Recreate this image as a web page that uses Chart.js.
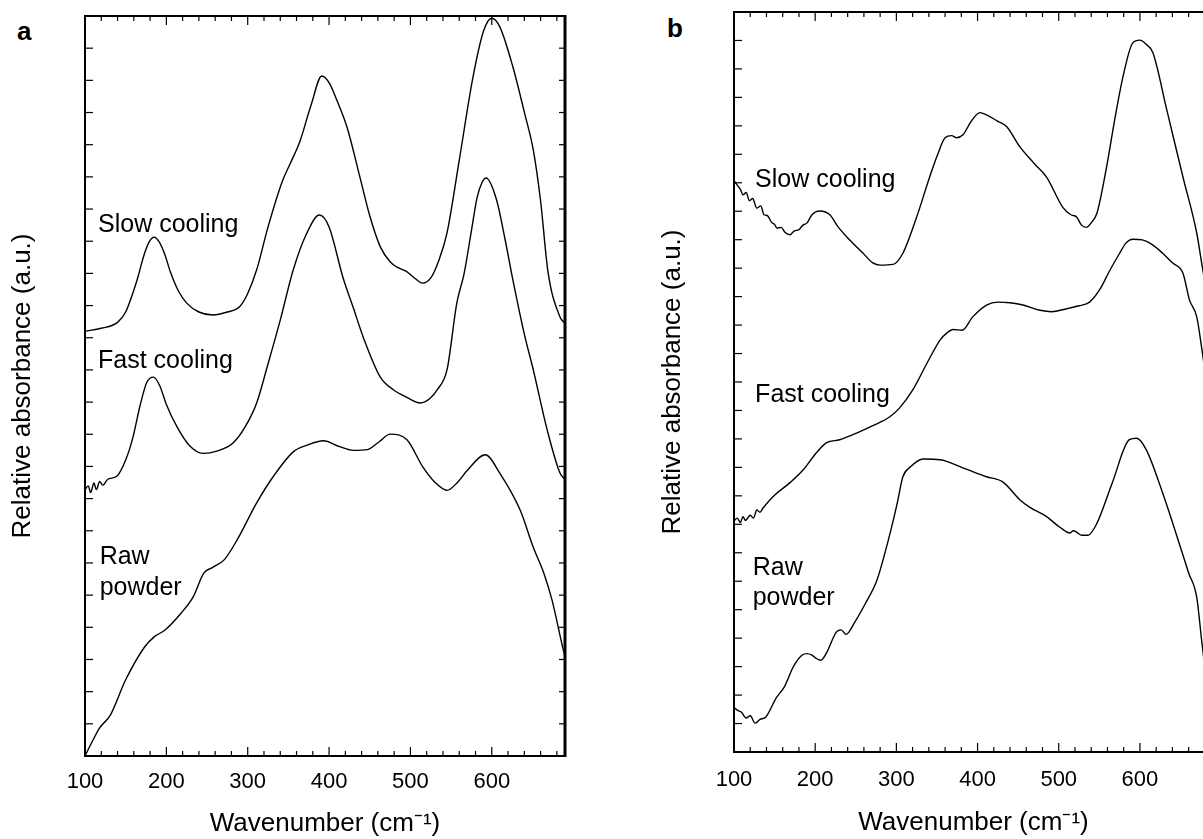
<!doctype html>
<html lang="en">
<head>
<meta charset="utf-8">
<title>Relative absorbance spectra</title>
<script src="https://cdn.jsdelivr.net/npm/chart.js"></script>
<style>
  html, body { margin: 0; padding: 0; background: #fff; }
  body { width: 1203px; height: 839px; overflow: hidden; position: relative; }
  canvas { position: absolute; top: 0; }
  #chartA { left: 0; }
  #chartB { left: 640px; }
  .panel { position: absolute; font: bold 26px "Liberation Sans", Arial, sans-serif; line-height: 1; }
</style>
</head>
<body>
<div class="panel" style="left:17px; top:18px;">a</div>
<div class="panel" style="left:667px; top:15px;">b</div>
<canvas id="chartA" width="600" height="839"></canvas>
<canvas id="chartB" width="600" height="839"></canvas>

<script>
// x ticks (cm-1)
const tickLabels = [100, 200, 300, 400, 500, 600];

// panel a
const slowA_wn = [100,120,140,150,158,165,172,179,185,191,198,205,215,225,240,257,275,290,300,311,325,343,352,364,378,391,400,410,422,438,450,463,475,483,495,505,515,525,535,545,560,577,590,600,610,626,640,651,660,669,684,690];
const slowA_abs = [57.4,57.8,58.6,60.0,62.3,64.7,67.5,69.5,70.1,69.5,67.8,65.4,62.8,61.2,60.0,59.6,60.0,60.7,62.5,65.7,71.5,77.8,80.0,83.0,88.0,91.9,91.0,88.5,85.0,78.2,73.0,68.8,66.8,66.1,65.5,64.6,63.9,64.6,67.0,70.7,80.5,91.8,98.0,99.7,98.5,93.1,87.0,81.9,75.0,65.5,59.3,58.5];

const fastA_wn = [100,104,107,111,114,118,122,128,139,150,159,168,176,184,192,200,213,228,245,262,282,297,311,325,340,356,372,388,400,417,430,442,463,479,495,512,524,533,545,557,566,575,582,588,593,606,616,626,640,651,668,684,690];
const fastA_abs = [36.0,36.5,35.6,36.9,36.0,37.1,36.6,37.4,37.8,40.0,43.1,47.5,50.5,51.2,50.0,47.5,44.5,42.0,40.9,41.2,42.3,44.5,47.7,53.0,58.9,65.7,70.5,73.1,71.5,64.7,60.5,56.6,51.2,49.5,48.5,47.7,48.3,49.5,52.2,61.2,65.2,71.0,75.5,77.5,78.1,75.1,70.0,64.3,57.0,52.2,44.1,38.2,37.4];

const rawA_wn = [100,110,118,131,150,173,185,198,218,233,246,257,271,287,311,331,356,373,393,413,430,447,462,475,496,515,530,545,558,570,592,610,635,651,664,674,688,690];
const rawA_abs = [0,2.2,3.8,5.5,10.3,14.7,16.1,17.0,19.3,21.5,24.7,25.5,26.5,29.2,34.2,37.7,41.1,42.0,42.6,41.8,41.3,41.4,42.5,43.5,42.7,39.1,37.0,35.9,37.0,38.6,40.7,38.2,33.2,28.2,24.7,21.1,14.3,13.5];

// panel b
const slowB_wn = [100,104,108,111,115,119,123,128,133,137,141,146,150,153,158,163,169,174,180,185,190,196,206,218,228,239,259,271,280,296,308,325,341,350,360,368,374,382,392,403,411,424,436,452,470,485,505,515,522,528,534,540,547,559,569,579,591,600,608,616,633,653,670,676,690];
const slowB_abs = [77.2,76.6,76.0,75.3,75.6,74.5,74.8,73.5,73.8,72.6,72.5,71.6,71.3,70.8,70.9,70.2,69.9,70.4,70.6,71.2,71.5,72.6,73.1,72.6,71.0,69.6,67.4,66.1,65.8,65.9,67.4,72.3,77.7,80.5,83.0,83.3,83.0,83.4,85.2,86.4,86.1,85.3,84.5,81.8,79.5,77.7,73.6,72.6,72.3,71.2,70.9,71.5,72.8,79.1,85.5,91.2,95.8,96.2,95.6,94.5,86.8,77.7,70.1,66.1,57.0];

const fastB_wn = [100,104,108,111,114,116,120,124,128,132,136,148,169,185,202,214,230,251,271,292,304,320,338,354,362,370,381,394,411,425,440,456,477,491,510,525,538,550,563,575,583,591,603,616,628,640,653,661,670,677,690];
const fastB_abs = [31.2,31.6,31.0,31.8,31.3,31.5,32.0,31.6,32.7,32.4,33.0,34.5,36.4,38.1,40.5,41.8,42.2,43.1,44.1,45.3,46.5,48.9,52.6,55.7,56.6,57.1,57.0,58.8,60.4,60.8,60.7,60.4,59.7,59.5,59.9,60.3,60.8,62.4,65.1,67.4,68.8,69.3,69.2,68.5,67.4,66.1,64.7,61.1,58.8,53.9,44.0];

const rawB_wn = [100,105,109,115,120,126,132,139,152,162,173,184,190,196,202,207,214,226,232,238,249,262,276,290,301,308,317,333,354,382,411,431,452,464,485,501,514,518,522,528,536,547,566,587,596,608,628,651,660,670,676,690];
const rawB_abs = [6.0,5.6,5.4,4.6,4.9,3.9,4.4,4.7,7.3,8.8,11.5,13.1,13.3,13.1,12.6,12.4,13.4,16.2,16.5,15.9,17.6,20.1,23.2,28.6,33.6,37.2,38.5,39.6,39.5,38.4,37.2,36.5,34.1,33.1,31.8,30.4,29.6,29.9,29.7,29.3,29.3,30.9,36.4,42.2,42.4,40.8,35.0,27.3,24.2,20.9,15.1,2.0];

Chart.defaults.font.family = "'Liberation Sans', Arial, sans-serif";
Chart.defaults.color = '#000';

function pts(wn, abs) {
  return wn.map((w, i) => ({ x: w, y: abs[i] }));
}

function curve(wn, abs) {
  return { data: pts(wn, abs), borderColor: '#000', borderWidth: 1.4, pointRadius: 0, cubicInterpolationMode: 'monotone', fill: false };
}

// frame, inward ticks and curve names
const framePlugin = {
  id: 'frame',
  afterDraw(chart, args, opts) {
    const { ctx, chartArea: a, scales: { x, y } } = chart;
    const seg = (x1, y1, x2, y2) => { ctx.beginPath(); ctx.moveTo(x1, y1); ctx.lineTo(x2, y2); ctx.stroke(); };
    ctx.save();
    ctx.strokeStyle = '#000';
    ctx.lineWidth = 1.2;
    for (let v = 100; v <= 690; v += 20) {
      const px = x.getPixelForValue(v);
      const len = v % 100 === 0 ? 9 : 5;
      seg(px, a.bottom, px, a.bottom - len);
      seg(px, a.top, px, a.top + len);
    }
    for (let i = 1; i < opts.yDiv; i++) {
      const py = y.getPixelForValue(100 * i / opts.yDiv);
      seg(a.left, py, a.left + 8, py);
      seg(a.right, py, a.right - 6, py);
    }
    ctx.lineWidth = 2;
    ctx.strokeRect(a.left, a.top, a.right - a.left, a.bottom - a.top);
    if (opts.thickRight) {
      ctx.lineWidth = 3;
      seg(a.right, a.top - 1, a.right, a.bottom + 1);
    }
    ctx.fillStyle = '#000';
    ctx.font = "25px 'Liberation Sans', Arial, sans-serif";
    ctx.textBaseline = 'alphabetic';
    ctx.textAlign = 'left';
    opts.labels.forEach(l => ctx.fillText(l.text, x.getPixelForValue(l.wn), y.getPixelForValue(l.v)));
    ctx.restore();
  }
};

function makeChart(id, sets, box) {
  return new Chart(document.getElementById(id), {
    type: 'line',
    data: { datasets: sets },
    options: {
      responsive: false,
      animation: false,
      layout: { padding: { left: 0, top: box.top, right: box.right, bottom: 0 } },
      plugins: {
        legend: { display: false },
        tooltip: { enabled: false },
        frame: { yDiv: box.yDiv, thickRight: box.thickRight, labels: box.labels }
      },
      scales: {
        x: {
          type: 'linear', min: 100, max: 690,
          grid: { display: false, drawTicks: false },
          border: { display: false },
          ticks: { padding: box.tickPad, font: { size: 22 }, maxRotation: 0, autoSkip: false },
          afterBuildTicks: s => { s.ticks = tickLabels.map(v => ({ value: v })); },
          title: { display: true, text: 'Wavenumber (cm⁻¹)', font: { size: 26 }, padding: { top: 0, bottom: box.titlePadX } },
          afterFit: s => { s.height = box.xh; }
        },
        y: {
          min: 0, max: 100,
          grid: { display: false, drawTicks: false },
          border: { display: false },
          ticks: { display: false },
          title: { display: true, text: 'Relative absorbance (a.u.)', font: { size: 26 }, padding: { top: box.titlePadY, bottom: 0 } },
          afterFit: s => { s.width = box.yw; }
        }
      }
    },
    plugins: [framePlugin]
  });
}

makeChart('chartA', [curve(slowA_wn, slowA_abs), curve(fastA_wn, fastA_abs), curve(rawA_wn, rawA_abs)], {
  top: 16, right: 35, yw: 85, xh: 83, yDiv: 23, thickRight: true, tickPad: 13, titlePadX: 0, titlePadY: 7,
  labels: [
    { text: 'Slow cooling', wn: 116, v: 70.8 },
    { text: 'Fast cooling', wn: 116, v: 52.4 },
    { text: 'Raw', wn: 118, v: 25.9 },
    { text: 'powder', wn: 118, v: 21.8 }
  ]
});

makeChart('chartB', [curve(slowB_wn, slowB_abs), curve(fastB_wn, fastB_abs), curve(rawB_wn, rawB_abs)], {
  top: 12, right: 27, yw: 94, xh: 87, yDiv: 26, thickRight: false, tickPad: 15, titlePadX: 1, titlePadY: 17,
  labels: [
    { text: 'Slow cooling', wn: 126, v: 76.4 },
    { text: 'Fast cooling', wn: 126, v: 47.3 },
    { text: 'Raw', wn: 123, v: 23.9 },
    { text: 'powder', wn: 123, v: 19.9 }
  ]
});
</script>
</body>
</html>
